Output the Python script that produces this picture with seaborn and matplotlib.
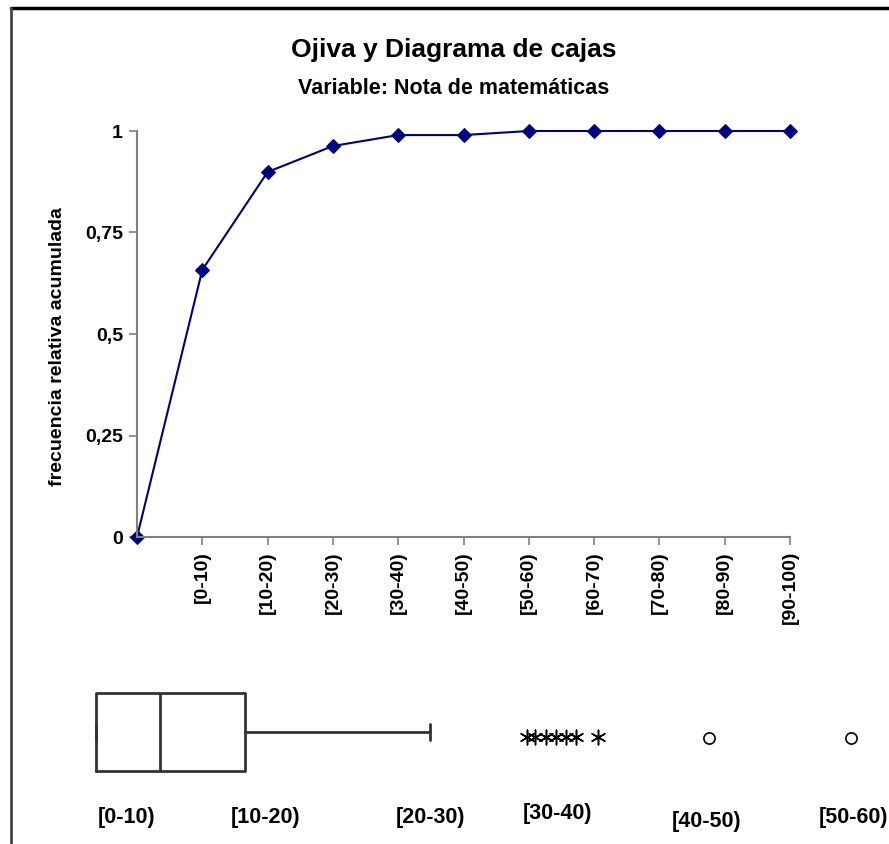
import matplotlib
matplotlib.use("Agg")
import matplotlib.pyplot as plt
from matplotlib.lines import Line2D
import matplotlib.transforms as mtransforms
import seaborn as sns

# Ogive data: cumulative relative frequency per interval
intervalos = ["[0-10)", "[10-20)", "[20-30)", "[30-40)", "[40-50)", "[50-60)",
              "[60-70)", "[70-80)", "[80-90)", "[90-100)"]
frec_acum = [0, 0.658, 0.899, 0.963, 0.99, 0.99, 1, 1, 1, 1, 1]
yticks = [0, 0.25, 0.5, 0.75, 1]
ytick_labels = ["0", "0,25", "0,5", "0,75", "1"]

# Box plot data (note in score units)
caja_q1 = 0.0
caja_med = 4.4
caja_q3 = 10.2
bigote_sup = 22.9
extremos = [29.5, 30.1, 30.8, 31.5, 32.2, 32.9, 34.4]
atipicos = [42.0, 51.7]
etiquetas_caja = ["[0-10)", "[10-20)", "[20-30)", "[30-40)", "[40-50)", "[50-60)"]
pos_etiquetas = [2.1, 11.6, 22.9, 31.6, 41.8, 51.9]

sns.set_style("white")
plt.rcParams['font.family'] = ['Liberation Sans', 'DejaVu Sans']
plt.rcParams['font.weight'] = 'bold'
plt.rcParams['text.color'] = 'black'

W, H = 889, 844
fig = plt.figure(figsize=(W / 100, H / 100), dpi=100)

# outer frame (only top and left visible)
fig.add_artist(Line2D([11 / W, 1], [1 - 8 / H, 1 - 8 / H], color='black', lw=2.5))
fig.add_artist(Line2D([11 / W, 11 / W], [0, 1 - 8 / H], color='#444444', lw=2))

# titles
fig.text(454 / W, 1 - 50 / H, "Ojiva y Diagrama de cajas", ha='center', va='center',
         fontsize=19, fontweight='bold')
fig.text(454 / W, 1 - 88 / H, "Variable: Nota de matemáticas", ha='center', va='center',
         fontsize=15.5, fontweight='bold')

# ogive
ax = fig.add_axes([137 / W, 1 - 537 / H, (790 - 137) / W, (537 - 131) / H])
sns.lineplot(x=list(range(len(frec_acum))), y=frec_acum, ax=ax, color='#000080',
             marker='D', markersize=7, markeredgecolor='#000080', linewidth=1.5)
ax.set_xlim(0, 10)
ax.set_ylim(0, 1)
ax.set_xticks(range(1, 11))
ax.set_xticklabels(intervalos, rotation=90, fontsize=14, fontweight='bold')
ax.set_yticks(yticks)
ax.set_yticklabels(ytick_labels, fontsize=14, fontweight='bold')
ax.tick_params(axis='both', direction='out', length=6, width=1.2, color='#808080',
               labelcolor='black', bottom=True, left=True, pad=4)
for s in ['top', 'right']:
    ax.spines[s].set_visible(False)
for s in ['left', 'bottom']:
    ax.spines[s].set_color('#808080')
    ax.spines[s].set_linewidth(1.5)
for lab in ax.get_xticklabels():
    lab.set_va('top')
ax.set_xlabel('')
ax.set_ylabel('')
ax.patch.set_alpha(0)
for line in ax.lines:
    line.set_clip_on(False)

fig.text(58 / W, 1 - 347 / H, "frecuencia relativa acumulada", rotation=90,
         ha='center', va='center', fontsize=14, fontweight='bold')

# box plot
ax2 = fig.add_axes([0, 1 - 782 / H, 1, 100 / H])
stats = [dict(med=caja_med, q1=caja_q1, q3=caja_q3, whislo=caja_q1, whishi=bigote_sup, fliers=[])]
ax2.bxp(stats, positions=[0], widths=0.78, orientation='horizontal', showfliers=False,
        capwidths=0.16,
        boxprops=dict(color='#333333', linewidth=2),
        medianprops=dict(color='#333333', linewidth=2),
        whiskerprops=dict(color='#333333', linewidth=2),
        capprops=dict(color='#333333', linewidth=2))
sns.scatterplot(x=extremos, y=[-0.05] * len(extremos), ax=ax2, marker=(6, 2, 0),
                s=110, color='black', linewidth=1.1)
sns.scatterplot(x=atipicos, y=[-0.06] * len(atipicos), ax=ax2, marker='o',
                s=65, facecolor='white', edgecolor='black', linewidth=1.2)
ax2.set_xlim(-96 / 14.6, (W - 96) / 14.6)
ax2.set_ylim(-0.5, 0.5)
ax2.axis('off')

trans = mtransforms.blended_transform_factory(ax2.transData, fig.transFigure)
label_y = [817, 817, 817, 814, 822, 818]
for txt, xp, yp in zip(etiquetas_caja, pos_etiquetas, label_y):
    ax2.text(xp, 1 - yp / H, txt, transform=trans, ha='center', va='center',
             fontsize=15.5, fontweight='bold', clip_on=False)

fig.savefig("out.png", dpi=100)
